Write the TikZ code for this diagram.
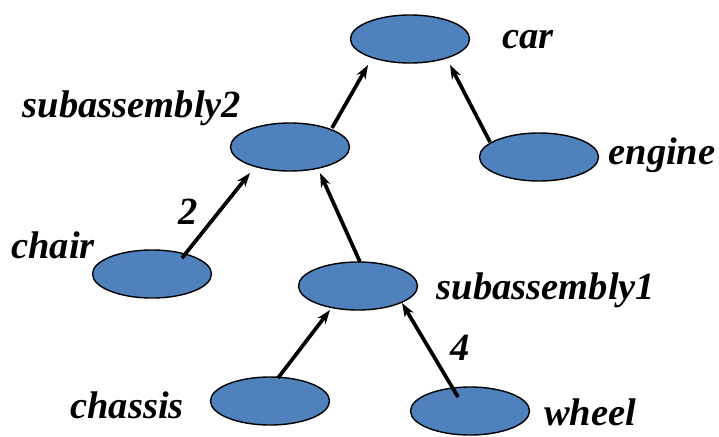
\documentclass[tikz,border=0pt]{standalone}
\usepackage{fontspec}
\setmainfont{Liberation Serif}
\usetikzlibrary{shapes.geometric,arrows.meta,calc}
\definecolor{nodeblue}{HTML}{4F81BD}
\tikzset{
  part/.style={ellipse, draw=black, line width=1.4pt, fill=nodeblue, minimum width=119pt, minimum height=48pt, inner sep=0pt},
  lbl/.style={font=\fontsize{38.5}{41}\selectfont\bfseries\itshape, inner sep=0pt},
  link/.style={line width=3.7pt, -{Stealth[length=14pt,width=10pt]}}
}
\begin{document}
\begin{tikzpicture}[x=1pt,y=-1pt]
\useasboundingbox (0,0) rectangle (719,436);
\node[part] (car) at (410,39) {};
\node[part] (sub2) at (290,147) {};
\node[part] (engine) at (539,157) {};
\node[part] (chair) at (152,274) {};
\node[part] (sub1) at (358,286) {};
\node[part] (chassis) at (270,401) {};
\node[part] (wheel) at (470,411) {};

\node[lbl] (tcar) at (528,40) {car};
\node[lbl] (tsub2) at (132,108) {subassembly2};
\node[lbl] (tengine) at (662,155) {engine};
\node[lbl] (tchair) at (53,245) {chair};
\node[lbl] (tsub1) at (546,290) {subassembly1};
\node[lbl] (tchassis) at (127,405) {chassis};
\node[lbl] (twheel) at (590,412) {wheel};
\node[lbl] (ltwo) at (188,212) {2};
\node[lbl] (lfour) at (460,348) {4};

\draw[link] ($(sub2)+(42,-19)$) -- ($(car)+(-42,26)$);
\draw[link] ($(engine)+(-49,-15)$) -- ($(car)+(40,26)$);
\draw[link] ($(chair)+(30,-16)$) -- ($(sub2)+(-40,26)$);
\draw[link] ($(sub1)+(2,-24)$) -- ($(sub2)+(30,26)$);
\draw[link] ($(chassis)+(8,-23)$) -- ($(sub1)+(-28,24)$);
\draw[link] ($(wheel)+(-12,-14)$) -- ($(sub1)+(44,17)$);
\end{tikzpicture}
\end{document}
